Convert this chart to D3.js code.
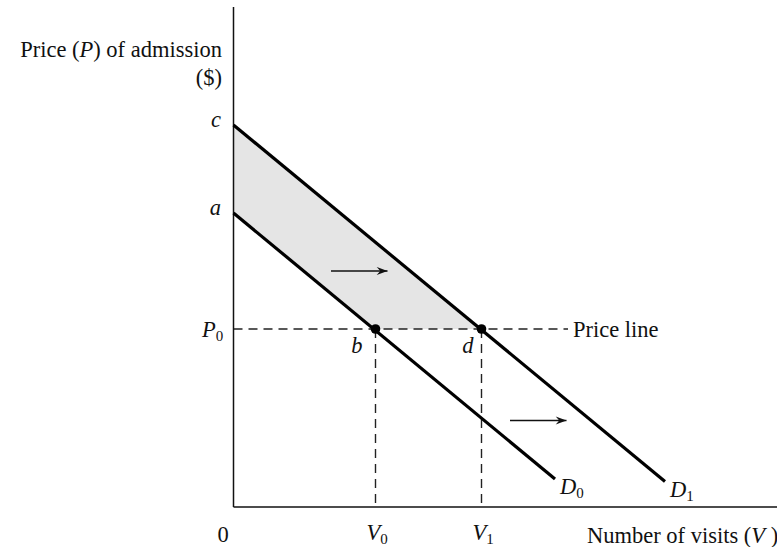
<!DOCTYPE html>
<html>
<head>
<meta charset="utf-8">
<script src="https://cdn.jsdelivr.net/npm/d3@7"></script>
<style>
  html, body { margin: 0; padding: 0; background: #fff; }
  svg text { font-family: "Liberation Serif", "DejaVu Serif", serif; fill: #111; }
</style>
</head>
<body>
<svg id="chart" width="777" height="547"></svg>
<script>
// Demand curves (visits V, price P), in abstract units
const demand0 = [{ v: 0, p: 5.88 }, { v: 6.43, p: 0.56 }];
const demand1 = [{ v: 0, p: 7.64 }, { v: 8.63, p: 0.51 }];
// Market price and the visits it induces on each curve
const priceP0 = 3.56;
const visitsV = [2.84, 4.96];
const pointLabels = ["b", "d"];
const visitLabels = ["V", "V"];
const visitSubs = ["0", "1"];
const curveLabels = ["D", "D"];
const curveSubs = ["0", "1"];
// Shift arrows (start V, end V, at price P)
const shiftArrows = [
  { v0: 1.95, v1: 3.08, p: 4.72 },
  { v0: 5.53, v1: 6.66, p: 1.73 }
];

const svg = d3.select("#chart");
const x = d3.scaleLinear().domain([0, 10]).range([233.5, 733.5]);
const y = d3.scaleLinear().domain([0, 10]).range([507, 7]);

const defs = svg.append("defs");
defs.append("marker")
  .attr("id", "arrowhead")
  .attr("viewBox", "0 0 12 10")
  .attr("refX", 12).attr("refY", 5)
  .attr("markerWidth", 12).attr("markerHeight", 9)
  .attr("markerUnits", "userSpaceOnUse")
  .attr("orient", "auto")
  .append("path")
  .attr("d", "M0,0.5 L12,5 L0,9.5 L4,5 Z")
  .attr("fill", "#111");

// Shaded band between the curves above the price line
const band = [
  [0, demand0[0].p], [0, demand1[0].p],
  [visitsV[1], priceP0], [visitsV[0], priceP0]
];
svg.append("path")
  .attr("d", d3.line().x(d => x(d[0])).y(d => y(d[1]))(band) + "Z")
  .attr("fill", "#e5e5e5");

// Dashed price line and vertical drop lines
const dash = "9,6";
svg.append("line")
  .attr("x1", x(0)).attr("x2", 568)
  .attr("y1", y(priceP0)).attr("y2", y(priceP0))
  .attr("stroke", "#222").attr("stroke-width", 1.4)
  .attr("stroke-dasharray", dash);
svg.selectAll(".drop").data(visitsV).join("line")
  .attr("class", "drop")
  .attr("x1", d => x(d)).attr("x2", d => x(d))
  .attr("y1", y(priceP0)).attr("y2", y(0))
  .attr("stroke", "#222").attr("stroke-width", 1.4)
  .attr("stroke-dasharray", dash);

// Axes
svg.append("line")
  .attr("x1", x(0)).attr("x2", x(0)).attr("y1", y(10)).attr("y2", y(0))
  .attr("stroke", "#111").attr("stroke-width", 1.5);
svg.append("line")
  .attr("x1", x(0)).attr("x2", 777).attr("y1", y(0)).attr("y2", y(0))
  .attr("stroke", "#111").attr("stroke-width", 1.5);

// Demand curves
const line = d3.line().x(d => x(d.v)).y(d => y(d.p));
[demand0, demand1].forEach(d => {
  svg.append("path").attr("d", line(d))
    .attr("fill", "none").attr("stroke", "#000").attr("stroke-width", 3.2);
});

// Intersection points
svg.selectAll(".pt").data(visitsV).join("circle")
  .attr("class", "pt")
  .attr("cx", d => x(d)).attr("cy", y(priceP0)).attr("r", 4.8)
  .attr("fill", "#000");

// Shift arrows
svg.selectAll(".shift").data(shiftArrows).join("line")
  .attr("class", "shift")
  .attr("x1", d => x(d.v0)).attr("x2", d => x(d.v1))
  .attr("y1", d => y(d.p)).attr("y2", d => y(d.p))
  .attr("stroke", "#111").attr("stroke-width", 1.4)
  .attr("marker-end", "url(#arrowhead)");

const fs = 22.5;
function subText(g, main, sub, xx, yy, anchor) {
  const t = g.append("text").attr("x", xx).attr("y", yy)
    .attr("font-size", fs).attr("text-anchor", anchor || "start");
  t.append("tspan").attr("font-style", "italic").text(main);
  t.append("tspan").attr("font-size", 15).attr("dy", 4).text(sub);
  return t;
}

// Axis title (vertical axis)
svg.append("text").attr("x", 222).attr("y", 57)
  .attr("text-anchor", "end").attr("font-size", fs)
  .call(t => {
    t.append("tspan").text("Price (");
    t.append("tspan").attr("font-style", "italic").text("P");
    t.append("tspan").text(") of admission");
  });
svg.append("text").attr("x", 222).attr("y", 85)
  .attr("text-anchor", "end").attr("font-size", fs).text("($)");

// Intercept labels
svg.append("text").attr("x", 221).attr("y", y(demand1[0].p) + 2)
  .attr("text-anchor", "end").attr("font-size", fs).attr("font-style", "italic").text("c");
svg.append("text").attr("x", 221).attr("y", y(demand0[0].p) + 2)
  .attr("text-anchor", "end").attr("font-size", fs).attr("font-style", "italic").text("a");
subText(svg, "P", "0", 202, y(priceP0) + 8);

// Point labels
const labelDx = [-13, -8];
svg.selectAll(".plabel").data(visitsV).join("text")
  .attr("class", "plabel")
  .attr("x", (d, i) => x(d) + labelDx[i]).attr("y", y(priceP0) + 24)
  .attr("text-anchor", "end").attr("font-size", fs).attr("font-style", "italic")
  .text((d, i) => pointLabels[i]);

svg.append("text").attr("x", 573).attr("y", y(priceP0) + 8)
  .attr("font-size", fs).text("Price line");

// Horizontal axis labels
svg.append("text").attr("x", 223).attr("y", 542)
  .attr("text-anchor", "middle").attr("font-size", fs).text("0");
visitsV.forEach((v, i) => subText(svg, visitLabels[i], visitSubs[i], x(v) - 9, 540));
[demand0, demand1].forEach((d, i) =>
  subText(svg, curveLabels[i], curveSubs[i], x(d[1].v) + 5, y(d[1].p) + 15));

svg.append("text").attr("x", 587).attr("y", 543).attr("font-size", fs)
  .call(t => {
    t.append("tspan").text("Number of visits (");
    t.append("tspan").attr("font-style", "italic").text("V");
    t.append("tspan").text(" )");
  });
</script>
</body>
</html>
